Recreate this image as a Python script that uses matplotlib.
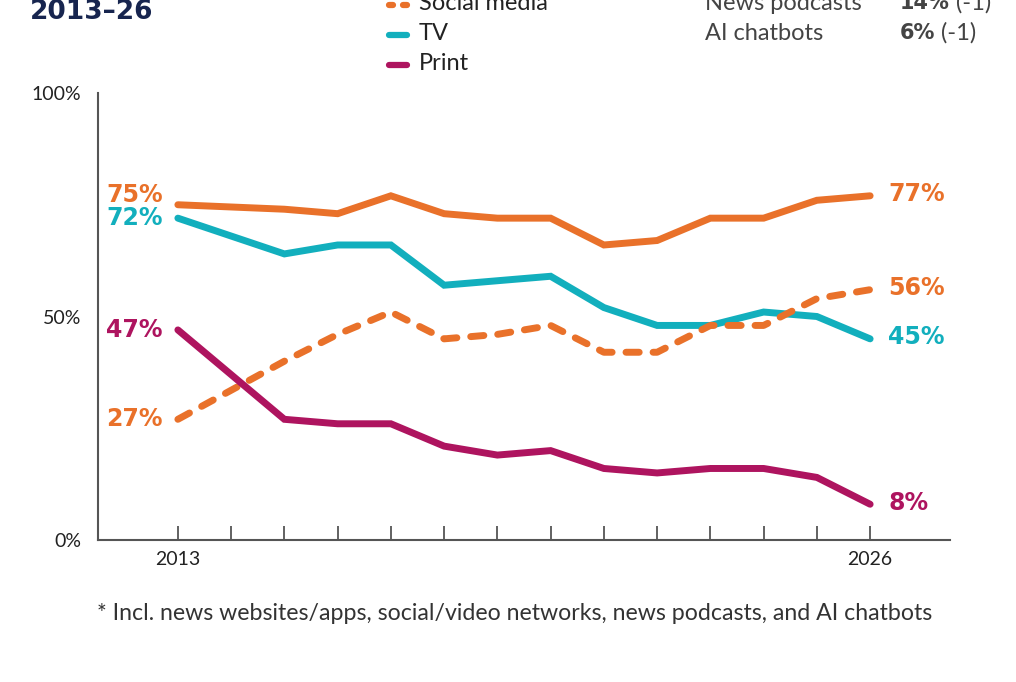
import matplotlib.pyplot as plt
from matplotlib.lines import Line2D

# data (2014 has no point, lines run straight 2013->2015)
years = [2013, 2015, 2016, 2017, 2018, 2019, 2020, 2021, 2022, 2023, 2024, 2025, 2026]
online = [75, 74, 73, 77, 73, 72, 72, 66, 67, 72, 72, 76, 77]
tv = [72, 64, 66, 66, 57, 58, 59, 52, 48, 48, 51, 50, 45]
social = [27, 40, 46, 51, 45, 46, 48, 42, 42, 48, 48, 54, 56]
printed = [47, 27, 26, 26, 21, 19, 20, 16, 15, 16, 16, 14, 8]
tick_years = list(range(2013, 2027))

extra_names = ["News podcasts", "AI chatbots"]
extra_vals = ["14%", "6%"]
extra_change = [" (-1)", " (-1)"]

ORANGE = '#E9712A'
TEAL = '#12AFBD'
PLUM = '#AE145F'
NAVY = '#17254F'
TXT = '#222222'
GREY = '#444444'

plt.rcParams['font.family'] = ['Lato', 'DejaVu Sans']

W, H = 1016, 682
fig = plt.figure(figsize=(W / 100, H / 100), dpi=100)

def fx(px):
    return px / W

def fy(py):
    return 1 - py / H

ax = fig.add_axes([fx(98), fy(540), fx(950) - fx(98), fy(93) - fy(540)])

lw = 5
ax.plot(years, online, color=ORANGE, lw=lw, solid_capstyle='round', solid_joinstyle='miter')
ax.plot(years, tv, color=TEAL, lw=lw, solid_capstyle='round', solid_joinstyle='miter')
ax.plot(years, social, color=ORANGE, lw=lw, linestyle=(0, (1.9, 2.0)),
        dash_capstyle='round', dash_joinstyle='round')
ax.plot(years, printed, color=PLUM, lw=lw, solid_capstyle='round', solid_joinstyle='miter')

ax.set_xlim(2011.5, 2027.5)
ax.set_ylim(0, 100)

for s in ['top', 'right']:
    ax.spines[s].set_visible(False)
ax.spines['left'].set_color('#555555')
ax.spines['bottom'].set_color('#555555')
ax.spines['left'].set_linewidth(1.5)
ax.spines['bottom'].set_linewidth(1.5)

ax.set_xticks(tick_years)
ax.set_xticklabels([str(y) if y in (2013, 2026) else '' for y in tick_years])
ax.tick_params(axis='x', direction='in', length=10, width=1.3, color='#555555',
               labelsize=14, labelcolor=TXT, pad=8)
ax.set_yticks([0, 50, 100])
ax.set_yticklabels(['0%', '50%', '100%'])
ax.tick_params(axis='y', length=0, labelsize=14, labelcolor=TXT, pad=12)

# end labels
lab_kw = dict(fontsize=17, fontweight='bold', va='center', family=['DejaVu Sans'])
series = [(online, ORANGE, 7, 1), (tv, TEAL, 0, 1), (social, ORANGE, 0, 1), (printed, PLUM, 0, 1)]
for vals, col, dy0, dy1 in series:
    ax.annotate(f"{vals[0]}%", (years[0], vals[0]), xytext=(-11, dy0),
                textcoords='offset points', ha='right', color=col, **lab_kw)
    ax.annotate(f"{vals[-1]}%", (years[-1], vals[-1]), xytext=(13, dy1),
                textcoords='offset points', ha='left', color=col, **lab_kw)

# title (cut off at the top in the reference)
fig.text(fx(30), fy(12), "2013–26", fontsize=19, fontweight='bold', color=NAVY,
         va='center', ha='left', family=['DejaVu Sans'])

# legend, drawn by hand
leg = [("Social media", ORANGE, 'dash', 3), ("TV", TEAL, 'solid', 33), ("Print", PLUM, 'solid', 63)]
for name, col, style, ypx in leg:
    if style == 'dash':
        for x0, x1 in [(389, 393), (403, 407)]:
            fig.add_artist(Line2D([fx(x0), fx(x1)], [fy(ypx + 2), fy(ypx + 2)], color=col,
                                  lw=4.5, solid_capstyle='round', transform=fig.transFigure))
    else:
        fig.add_artist(Line2D([fx(389), fx(407)], [fy(ypx + 2), fy(ypx + 2)], color=col,
                              lw=4.5, solid_capstyle='round', transform=fig.transFigure))
    fig.text(fx(419), fy(ypx), name, fontsize=17, color=TXT, va='center', ha='left')

# other sources list
for i, (nm, v, ch) in enumerate(zip(extra_names, extra_vals, extra_change)):
    ypx = 3 + 30 * i
    fig.text(fx(705), fy(ypx), nm, fontsize=17, color=GREY, va='center', ha='left')
    t = fig.text(fx(900), fy(ypx), v, fontsize=15, fontweight='bold', color=GREY,
                 va='center', ha='left', family=['DejaVu Sans'])
    fig.canvas.draw()
    bb = t.get_window_extent()
    fig.text(bb.x1 / W, fy(ypx), ch, fontsize=17, color=GREY, va='center', ha='left')

fig.text(fx(515), fy(613), "* Incl. news websites/apps, social/video networks, news podcasts, and AI chatbots",
         fontsize=16.7, color='#333333', ha='center', va='center')

fig.savefig('out.png', dpi=100)
